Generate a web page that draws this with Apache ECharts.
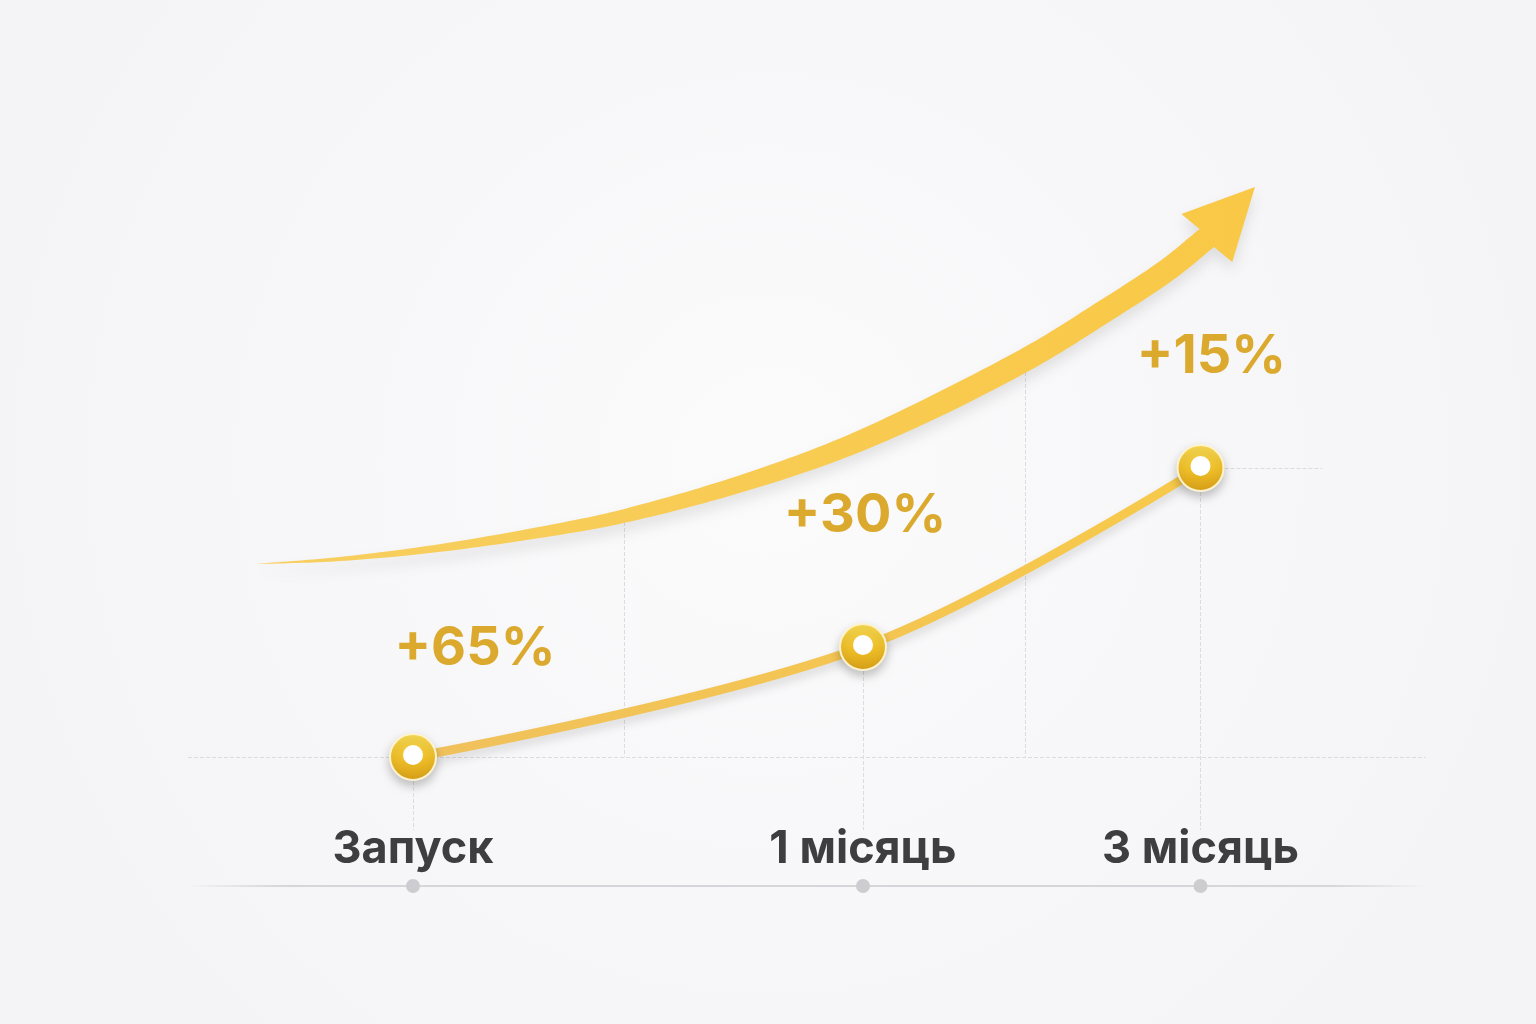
<!DOCTYPE html>
<html>
<head>
<meta charset="utf-8">
<script src="https://cdn.jsdelivr.net/npm/echarts@6/dist/echarts.min.js"></script>
<style>
html, body { margin: 0; padding: 0; background: #f8f8f9; }
#main { width: 1536px; height: 1024px; }
</style>
</head>
<body>
<div id="main"></div>
<script>
// stages on the timeline
const stageNames = ['Запуск', '1 місяць', '3 місяць'];
const stageX = [0, 100, 175];
const stageY = [12.9, 23.9, 41.8];
const growthLabels = ['+65%', '+30%', '+15%'];

// centre line of the big trend arrow, last point is the tip
const trendX = [-34.7, -16.2, 6.0, 33.8, 46.9, 72.7, 99.3, 136.0, 152.7, 167.6, 176.4, 187.1];
const trendY = [32.2, 32.7, 33.8, 35.8, 37.0, 40.2, 44.5, 52.6, 57.2, 61.6, 64.8, 69.9];

// arrow points where a dashed guide drops down to the start level
const guideIdx = [4, 7];

const FONT = "Inter, 'Open Sans', 'Noto Sans', sans-serif";

// centripetal catmull-rom through pixel points
function spline(pts, steps) {
    const n = pts.length;
    const ext = [[2 * pts[0][0] - pts[1][0], 2 * pts[0][1] - pts[1][1]]]
        .concat(pts, [[2 * pts[n - 1][0] - pts[n - 2][0], 2 * pts[n - 1][1] - pts[n - 2][1]]]);
    const lerp = (a, b, ta, tb, t) => [
        ((tb - t) * a[0] + (t - ta) * b[0]) / (tb - ta),
        ((tb - t) * a[1] + (t - ta) * b[1]) / (tb - ta)
    ];
    const out = [];
    for (let i = 1; i < ext.length - 2; i++) {
        const p0 = ext[i - 1], p1 = ext[i], p2 = ext[i + 1], p3 = ext[i + 2];
        const t0 = 0;
        const t1 = t0 + Math.sqrt(Math.hypot(p1[0] - p0[0], p1[1] - p0[1]));
        const t2 = t1 + Math.sqrt(Math.hypot(p2[0] - p1[0], p2[1] - p1[1]));
        const t3 = t2 + Math.sqrt(Math.hypot(p3[0] - p2[0], p3[1] - p2[1]));
        for (let s = 0; s < steps; s++) {
            const t = t1 + (t2 - t1) * s / steps;
            const a1 = lerp(p0, p1, t0, t1, t), a2 = lerp(p1, p2, t1, t2, t), a3 = lerp(p2, p3, t2, t3, t);
            const b1 = lerp(a1, a2, t0, t2, t), b2 = lerp(a2, a3, t1, t3, t);
            out.push(lerp(b1, b2, t1, t2, t));
        }
    }
    out.push(pts[n - 1]);
    return out;
}

function renderArrow(params, api) {
    if (params.dataIndex !== 0) return;
    const px = trendX.map((x, i) => api.coord([x, trendY[i]]));
    const tip = px[px.length - 1];
    const shaft = spline(px.slice(0, -1), 16);
    const len = [0];
    for (let i = 1; i < shaft.length; i++) {
        len.push(len[i - 1] + Math.hypot(shaft[i][0] - shaft[i - 1][0], shaft[i][1] - shaft[i - 1][1]));
    }
    const total = len[len.length - 1];
    const left = [], right = [];
    shaft.forEach((p, i) => {
        const a = shaft[Math.max(i - 1, 0)], b = shaft[Math.min(i + 1, shaft.length - 1)];
        const dx = b[0] - a[0], dy = b[1] - a[1];
        const d = Math.hypot(dx, dy) || 1;
        const nx = -dy / d, ny = dx / d;
        const w = 23 * Math.pow(Math.min(1, len[i] / total / 0.7), 0.8) / 2;
        left.push([p[0] + nx * w, p[1] + ny * w]);
        right.push([p[0] - nx * w, p[1] - ny * w]);
    });
    const end = shaft[shaft.length - 1];
    const hx = tip[0] - end[0], hy = tip[1] - end[1];
    const hd = Math.hypot(hx, hy);
    const qx = -hy / hd, qy = hx / hd;
    const headA = [end[0] + qx * 35, end[1] + qy * 35];
    const headB = [end[0] - qx * 35, end[1] - qy * 35];
    const points = left.concat([headA, tip, headB], right.reverse());
    return {
        type: 'polygon',
        shape: { points: points },
        style: {
            fill: new echarts.graphic.LinearGradient(0, 0, 1, 0, [
                { offset: 0, color: '#f7cf60' },
                { offset: 1, color: '#f9c846' }
            ]),
            shadowColor: 'rgba(0,0,0,0.10)',
            shadowBlur: 14,
            shadowOffsetY: 8
        }
    };
}

const dash = { type: 'dashed', color: '#dcdce0', width: 1 };
const guideLines = [];
// level of the start point, across the whole chart
guideLines.push({ yAxis: stageY[0], lineStyle: dash });
// drops from every stage point
stageX.forEach((x, i) => {
    guideLines.push([{ coord: [x, stageY[i]], lineStyle: dash }, { coord: [x, 5.6] }]);
});
// short level line right of the last point
guideLines.push([{ coord: [stageX[2], stageY[2]], lineStyle: dash }, { coord: [202, stageY[2]] }]);
// drops from the trend arrow
guideIdx.forEach((k) => {
    guideLines.push([{ coord: [trendX[k], trendY[k]], lineStyle: dash }, { coord: [trendX[k], stageY[0]] }]);
});
// timeline base
guideLines.push({
    yAxis: 0,
    lineStyle: {
        type: 'solid', width: 2,
        color: new echarts.graphic.LinearGradient(0, 0, 1, 0, [
            { offset: 0, color: 'rgba(210,210,214,0)' },
            { offset: 0.08, color: '#d6d6da' },
            { offset: 0.92, color: '#d6d6da' },
            { offset: 1, color: 'rgba(210,210,214,0)' }
        ])
    }
});

const labelShift = [[62, -108], [2, -131], [11, -111]];

var chartDom = document.getElementById('main');
var myChart = echarts.init(chartDom);
var option = {
    backgroundColor: new echarts.graphic.RadialGradient(0.5, 0.45, 0.8, [
        { offset: 0, color: '#fbfbfc' },
        { offset: 1, color: '#f4f4f6' }
    ]),
    animation: false,
    grid: { left: 188, right: 110.5, top: 86, bottom: 138 },
    xAxis: { type: 'value', min: -50, max: 225, show: false },
    yAxis: { type: 'value', min: 0, max: 80, show: false },
    series: [
        {
            name: 'guides',
            type: 'scatter',
            data: stageX.map((x) => [x, 0]),
            symbol: 'circle',
            symbolSize: 14,
            itemStyle: { color: '#cdcdd1', opacity: 1 },
            label: {
                show: true,
                position: 'top',
                distance: 7,
                formatter: (p) => stageNames[p.dataIndex],
                fontFamily: FONT,
                fontSize: 45,
                fontWeight: 700,
                color: '#3e3e41'
            },
            markLine: {
                silent: true,
                symbol: 'none',
                z: 0,
                label: { show: false },
                data: guideLines
            },
            emphasis: { disabled: true },
            z: 1
        },
        {
            name: 'trend',
            type: 'custom',
            data: trendX.map((x, i) => [x, trendY[i]]),
            renderItem: renderArrow,
            clip: false,
            silent: true,
            z: 2
        },
        {
            name: 'growth',
            type: 'line',
            data: stageX.map((x, i) => ({ value: [x, stageY[i]], label: { offset: labelShift[i] } })),
            smooth: 0.35,
            symbol: 'circle',
            symbolSize: 46,
            lineStyle: {
                width: 9,
                color: new echarts.graphic.LinearGradient(0, 0, 1, 0, [
                    { offset: 0, color: '#f0c15c' },
                    { offset: 1, color: '#f7c94a' }
                ]),
                shadowColor: 'rgba(0,0,0,0.12)',
                shadowBlur: 10,
                shadowOffsetY: 6
            },
            itemStyle: {
                color: new echarts.graphic.LinearGradient(0, 0, 0, 1, [
                    { offset: 0, color: '#fadc55' },
                    { offset: 0.5, color: '#f1c12a' },
                    { offset: 1, color: '#d69e15' }
                ]),
                borderColor: '#fff3cf',
                borderWidth: 2,
                shadowColor: 'rgba(0,0,0,0.22)',
                shadowBlur: 10,
                shadowOffsetY: 5
            },
            label: {
                show: true,
                position: 'inside',
                formatter: (p) => growthLabels[p.dataIndex],
                fontFamily: FONT,
                fontSize: 54,
                fontWeight: 700,
                color: '#dba92e'
            },
            emphasis: { disabled: true },
            z: 3
        },
        {
            name: 'dots',
            type: 'scatter',
            data: stageX.map((x, i) => [x, stageY[i]]),
            symbol: 'circle',
            symbolSize: 20,
            symbolOffset: [0, -2],
            itemStyle: { color: '#ffffff', opacity: 1 },
            emphasis: { disabled: true },
            silent: true,
            z: 4
        }
    ]
};
option && myChart.setOption(option);
</script>
</body>
</html>
